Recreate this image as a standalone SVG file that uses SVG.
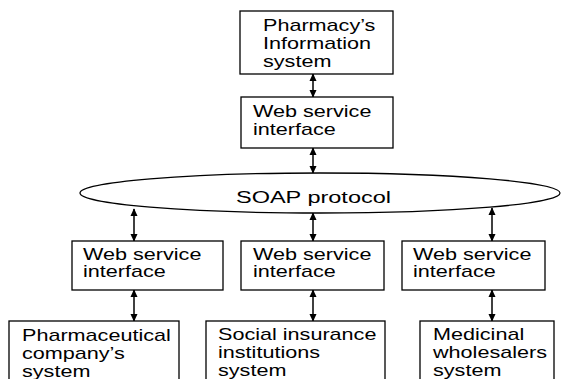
<svg xmlns="http://www.w3.org/2000/svg" width="562" height="379" viewBox="0 0 562 379">
<style>
.box{fill:#fff;stroke:#000;stroke-width:1.3}
.t{font-family:"Liberation Sans",Arial,sans-serif;font-size:16px;fill:#000}
.c{stroke:#000;stroke-width:1.5;fill:none;marker-start:url(#a);marker-end:url(#a)}
</style>
<defs>
<marker id="a" viewBox="0 0 10 10" refX="9" refY="5" markerWidth="8" markerHeight="8" markerUnits="userSpaceOnUse" orient="auto-start-reverse">
<path d="M0,0.5 L10,5 L0,9.5 z" fill="#000"/>
</marker>
</defs>
<rect width="562" height="379" fill="#fff"/>
<g id="connectors">
<line class="c" x1="313" y1="74" x2="313" y2="97"/>
<line class="c" x1="313" y1="148" x2="313" y2="173"/>
<line class="c" x1="134" y1="209" x2="134" y2="241"/>
<line class="c" x1="313" y1="213" x2="313" y2="241"/>
<line class="c" x1="492" y1="208" x2="492" y2="241"/>
<line class="c" x1="134" y1="290" x2="134" y2="321"/>
<line class="c" x1="313" y1="290" x2="313" y2="321"/>
<line class="c" x1="492" y1="290" x2="492" y2="321"/>
</g>
<g id="pharmacy">
<rect class="box" x="240" y="11" width="153" height="63"/>
<text class="t" transform="translate(263,31) scale(1.35,1)"><tspan x="0" y="0">Pharmacy’s</tspan><tspan x="0" y="18">Information</tspan><tspan x="0" y="36">system</tspan></text>
</g>
<g id="ws-top">
<rect class="box" x="241" y="97" width="152" height="51"/>
<text class="t" transform="translate(253,117) scale(1.35,1)"><tspan x="0" y="0">Web service</tspan><tspan x="0" y="18">interface</tspan></text>
</g>
<g id="soap">
<ellipse cx="320" cy="193" rx="240" ry="20" fill="#fff" stroke="#000" stroke-width="1.3"/>
<text class="t" x="236" y="203" textLength="155" lengthAdjust="spacingAndGlyphs">SOAP protocol</text>
</g>
<g id="ws-left">
<rect class="box" x="72" y="241" width="151" height="49"/>
<text class="t" transform="translate(83,260) scale(1.35,1)"><tspan x="0" y="0">Web service</tspan><tspan x="0" y="17.5">interface</tspan></text>
</g>
<g id="ws-mid">
<rect class="box" x="241" y="241" width="143" height="49"/>
<text class="t" transform="translate(253,260) scale(1.35,1)"><tspan x="0" y="0">Web service</tspan><tspan x="0" y="17.5">interface</tspan></text>
</g>
<g id="ws-right">
<rect class="box" x="402" y="241" width="143" height="49"/>
<text class="t" transform="translate(413,260) scale(1.35,1)"><tspan x="0" y="0">Web service</tspan><tspan x="0" y="17.5">interface</tspan></text>
</g>
<g id="pharma-company">
<rect class="box" x="9" y="321" width="170" height="70"/>
<text class="t" transform="translate(22,341) scale(1.35,1)"><tspan x="0" y="0">Pharmaceutical</tspan><tspan x="0" y="18">company’s</tspan><tspan x="0" y="36">system</tspan></text>
</g>
<g id="social">
<rect class="box" x="206" y="321" width="179" height="70"/>
<text class="t" transform="translate(218,340) scale(1.35,1)"><tspan x="0" y="0">Social insurance</tspan><tspan x="0" y="18">institutions</tspan><tspan x="0" y="36">system</tspan></text>
</g>
<g id="wholesalers">
<rect class="box" x="420" y="321" width="134" height="70"/>
<text class="t" transform="translate(433,340) scale(1.35,1)"><tspan x="0" y="0">Medicinal</tspan><tspan x="0" y="18">wholesalers</tspan><tspan x="0" y="36">system</tspan></text>
</g>
</svg>
